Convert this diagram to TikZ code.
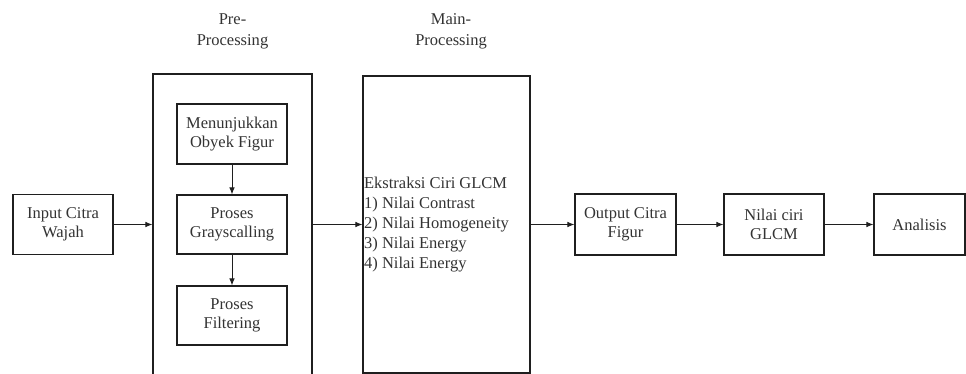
\documentclass[tikz,border=0pt]{standalone}
\usepackage{fontspec}
\setmainfont{Liberation Serif}
\usetikzlibrary{arrows.meta}
\definecolor{txt}{rgb}{0.2,0.2,0.2}
\definecolor{ln}{rgb}{0.12,0.12,0.12}
\begin{document}
\begin{tikzpicture}[x=1pt,y=-1pt,
  box/.style={draw=ln,line width=1.1pt,rectangle,inner sep=0pt,align=center,text=txt,
    font=\fontsize{16.5}{19.5}\selectfont},
  lbl/.style={align=center,text=txt,inner sep=0pt,font=\fontsize{16.5}{21}\selectfont},
  arr/.style={draw=ln,line width=0.9pt,-{Latex[length=7pt,width=5.5pt]}}]
\useasboundingbox (0,0) rectangle (966,373);
\fill[white] (0,0) rectangle (966,373);
% boxes
\node[box,minimum width=100pt,minimum height=60pt] (in) at (63,224.5) {Input Citra\\Wajah};
\node[box,minimum width=159pt,minimum height=400pt] (pre) at (232.5,274) {};
\node[box,minimum width=110pt,minimum height=60pt] (men) at (232,134) {Menunjukkan\\Obyek Figur};
\node[box,minimum width=110pt,minimum height=59pt] (gray) at (232,224.5) {Proses\\Grayscalling};
\node[box,minimum width=110pt,minimum height=59pt] (fil) at (232,315.5) {Proses\\Filtering};
\node[box,minimum width=167pt,minimum height=297pt] (main) at (446.5,224.5) {};
\node[anchor=west,align=left,text=txt,inner sep=0pt,font=\fontsize{16.5}{20}\selectfont] (mtxt) at ([xshift=1.5pt]main.west)
  {Ekstraksi Ciri GLCM\\1) Nilai Contrast\\2) Nilai Homogeneity\\3) Nilai Energy\\4) Nilai Energy};
\node[box,minimum width=101pt,minimum height=61pt] (out) at (625.5,224.5) {Output Citra\\Figur};
\node[box,minimum width=100pt,minimum height=61pt] (nil) at (774,224.5) {Nilai ciri\\GLCM};
\node[box,minimum width=91pt,minimum height=61pt] (ana) at (919.5,224.5) {Analisis};
% labels
\node[lbl] (lpre) at (232.5,31) {Pre-\\Processing};
\node[lbl] (lmain) at (451,31) {Main-\\Processing};
% connectors
\draw[arr] (in.east) -- (in.east -| pre.west);
\draw[arr] (main.west -| pre.east) -- (main.west);
\draw[arr] (main.east) -- (out.west);
\draw[arr] (out.east) -- (nil.west);
\draw[arr] (nil.east) -- (ana.west);
\draw[arr] (men.south) -- (gray.north);
\draw[arr] (gray.south) -- (fil.north);
\end{tikzpicture}
\end{document}
